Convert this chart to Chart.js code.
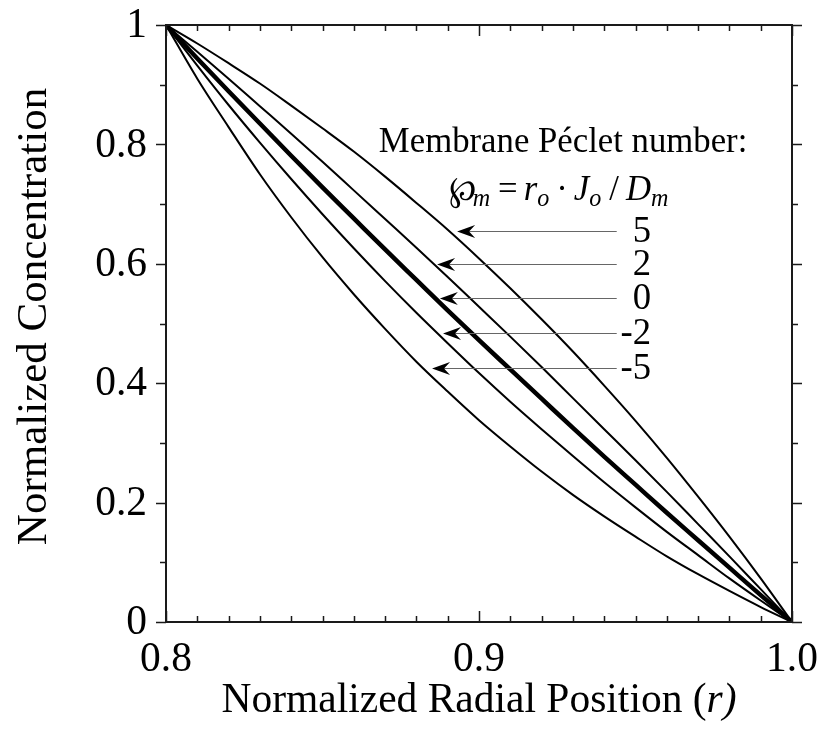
<!DOCTYPE html>
<html>
<head>
<meta charset="utf-8">
<script src="https://cdn.jsdelivr.net/npm/chart.js@4"></script>
<style>
  html, body { margin: 0; padding: 0; background: #fff; }
  #wrap { width: 821px; height: 731px; }
</style>
</head>
<body>
<div id="wrap"><canvas id="profileChart" width="821" height="731"></canvas></div>
<script>
// radial positions (x axis)
const rValues = [0.80, 0.81, 0.82, 0.83, 0.84, 0.85, 0.86, 0.87, 0.88, 0.89, 0.90,
                 0.91, 0.92, 0.93, 0.94, 0.95, 0.96, 0.97, 0.98, 0.99, 1.00];

// normalized concentration for each membrane Peclet number
const pe5  = [1, 0.969, 0.936, 0.902, 0.865, 0.827, 0.788, 0.746, 0.702, 0.657, 0.609,
              0.559, 0.507, 0.453, 0.396, 0.337, 0.275, 0.210, 0.143, 0.073, 0];
const pe2  = [1, 0.955, 0.910, 0.864, 0.818, 0.771, 0.723, 0.675, 0.627, 0.578, 0.528,
              0.478, 0.427, 0.375, 0.323, 0.271, 0.218, 0.164, 0.110, 0.055, 0];
const pe0  = [1, 0.944, 0.889, 0.835, 0.781, 0.728, 0.676, 0.624, 0.573, 0.522, 0.472,
              0.423, 0.374, 0.325, 0.277, 0.230, 0.183, 0.137, 0.091, 0.045, 0];
const peM2 = [1, 0.932, 0.866, 0.803, 0.742, 0.683, 0.626, 0.571, 0.518, 0.467, 0.417,
              0.369, 0.323, 0.278, 0.234, 0.192, 0.151, 0.112, 0.073, 0.036, 0];
const peM5 = [1, 0.910, 0.829, 0.750, 0.678, 0.611, 0.549, 0.491, 0.436, 0.386, 0.338,
              0.294, 0.252, 0.213, 0.177, 0.143, 0.110, 0.080, 0.052, 0.025, 0];

// tick labels
const xTickValues = [0.8, 0.9, 1.0];
const xTickLabels = ['0.8', '0.9', '1.0'];
const yTickValues = [0, 0.2, 0.4, 0.6, 0.8, 1];
const yTickLabels = ['0', '0.2', '0.4', '0.6', '0.8', '1'];

// legend labels and where their arrows point (data coords)
const peLabels = ['5', '2', '0', '-2', '-5'];
const arrowTipR = [0.8930, 0.8866, 0.8875, 0.8885, 0.8850];
const arrowTipC = [0.6549, 0.5997, 0.5427, 0.4841, 0.4255];

const SERIF = '"Liberation Serif", "Times New Roman", serif';
const SX = 0.965;   // the original lettering is a little narrow

function toPoints(ys) {
    return rValues.map((r, i) => ({ x: r, y: ys[i] }));
}

function lineSet(label, ys, width) {
    return {
        label: label,
        data: toPoints(ys),
        borderColor: '#000',
        borderWidth: width,
        pointRadius: 0,
        fill: false,
        cubicInterpolationMode: 'monotone'
    };
}

function narrowText(ctx, text, x, y) {
    ctx.save();
    ctx.translate(x, y);
    ctx.scale(SX, 1);
    ctx.fillText(text, 0, 0);
    ctx.restore();
}

// draws a run of text pieces (mixed fonts / subscripts) starting at x
function drawRun(ctx, pieces, x, y) {
    pieces.forEach(p => {
        ctx.font = p.font;
        x += (p.dx || 0);
        narrowText(ctx, p.text, x, y + (p.dy || 0));
        x += ctx.measureText(p.text).width * SX;
    });
}

const framePlugin = {
    id: 'frame',
    afterDatasetsDraw(chart) {
        const ctx = chart.ctx;
        const xs = chart.scales.x;
        const ys = chart.scales.y;
        const a = chart.chartArea;
        ctx.save();
        ctx.strokeStyle = '#1a1a1a';
        ctx.fillStyle = '#000';

        // x ticks (inward, bottom and top)
        ctx.lineWidth = 1.5;
        for (let i = 0; i <= 20; i++) {
            const v = 0.8 + i * 0.01;
            const px = Math.round(xs.getPixelForValue(v)) + 0.5;
            const len = (i % 10 === 0) ? 11 : 6;
            ctx.beginPath();
            ctx.moveTo(px, a.bottom); ctx.lineTo(px, a.bottom - len);
            ctx.moveTo(px, a.top); ctx.lineTo(px, a.top + len);
            ctx.stroke();
        }
        // y ticks (outward, left and right)
        for (let i = 0; i <= 10; i++) {
            const v = i * 0.1;
            const py = Math.round(ys.getPixelForValue(v)) + 0.5;
            const len = (i % 2 === 0) ? 10 : 6;
            ctx.beginPath();
            ctx.moveTo(a.left, py); ctx.lineTo(a.left - len, py);
            ctx.moveTo(a.right, py); ctx.lineTo(a.right + len, py);
            ctx.stroke();
        }
        // frame
        ctx.lineWidth = 2;
        ctx.strokeRect(a.left, a.top, a.right - a.left, a.bottom - a.top);

        // tick labels
        ctx.font = '43px ' + SERIF;
        ctx.textAlign = 'right';
        ctx.textBaseline = 'middle';
        yTickValues.forEach((v, i) => {
            narrowText(ctx, yTickLabels[i], a.left - 19, ys.getPixelForValue(v) + 1);
        });
        ctx.textAlign = 'center';
        ctx.textBaseline = 'alphabetic';
        xTickValues.forEach((v, i) => {
            narrowText(ctx, xTickLabels[i], xs.getPixelForValue(v), a.bottom + 49);
        });

        // axis titles
        ctx.save();
        ctx.translate(46, (a.top + a.bottom) / 2 - 7);
        ctx.rotate(-Math.PI / 2);
        ctx.textAlign = 'center';
        ctx.font = '43px ' + SERIF;
        ctx.fillText('Normalized Concentration', 0, 0);
        ctx.restore();

        const xTitle = [
            { text: 'Normalized Radial Position (', font: '43px ' + SERIF },
            { text: 'r', font: 'italic 43px ' + SERIF },
            { text: ')', font: 'italic 43px ' + SERIF }
        ];
        let w = 0;
        xTitle.forEach(p => { ctx.font = p.font; w += ctx.measureText(p.text).width * SX; });
        ctx.textAlign = 'left';
        drawRun(ctx, xTitle, (a.left + a.right) / 2 - w / 2, a.bottom + 90);

        // legend block
        ctx.font = '36px ' + SERIF;
        narrowText(ctx, 'Membrane Péclet number:', xs.getPixelForValue(0.8680), ys.getPixelForValue(0.7873));
        const sub = 'italic 25px ' + SERIF;
        const ital = 'italic 36px ' + SERIF;
        const reg = '36px ' + SERIF;
        drawRun(ctx, [
            { text: '\u2118', font: '34px "DejaVu Serif", serif' },
            { text: 'm', font: sub, dy: 6, dx: -3 },
            { text: '=', font: reg, dx: 8 },
            { text: 'r', font: ital, dx: 6 },
            { text: 'o', font: sub, dy: 6 },
            { text: '\u00b7', font: reg, dx: 7 },
            { text: 'J', font: ital, dx: 6 },
            { text: 'o', font: sub, dy: 6 },
            { text: '/', font: reg, dx: 8 },
            { text: 'D', font: ital, dx: 7 },
            { text: 'm', font: sub, dy: 6 }
        ], xs.getPixelForValue(0.8903), ys.getPixelForValue(0.7069));

        // arrows with their Peclet labels
        const tailX = xs.getPixelForValue(0.9440);
        const labelX = xs.getPixelForValue(0.9550);
        peLabels.forEach((lab, i) => {
            const tx = xs.getPixelForValue(arrowTipR[i]);
            const ty = Math.round(ys.getPixelForValue(arrowTipC[i])) + 0.5;
            ctx.strokeStyle = '#666';
            ctx.lineWidth = 1;
            ctx.beginPath();
            ctx.moveTo(tx + 10, ty); ctx.lineTo(tailX, ty);
            ctx.stroke();
            ctx.fillStyle = '#000';
            ctx.beginPath();
            ctx.moveTo(tx, ty);
            ctx.lineTo(tx + 18, ty - 6.5);
            ctx.lineTo(tx + 12, ty);
            ctx.lineTo(tx + 18, ty + 6.5);
            ctx.closePath();
            ctx.fill();
            ctx.font = '38px ' + SERIF;
            ctx.textAlign = 'right';
            ctx.textBaseline = 'middle';
            narrowText(ctx, lab, labelX, ty + 1);
            ctx.textBaseline = 'alphabetic';
            ctx.textAlign = 'left';
        });
        ctx.restore();
    }
};

document.addEventListener('DOMContentLoaded', function() {
    const ctx = document.getElementById('profileChart').getContext('2d');
    window.currentChart = new Chart(ctx, {
        type: 'line',
        data: {
            datasets: [
                lineSet('5', pe5, 2),
                lineSet('2', pe2, 2),
                lineSet('0', pe0, 4.5),
                lineSet('-2', peM2, 2),
                lineSet('-5', peM5, 2)
            ]
        },
        options: {
            responsive: false,
            animation: false,
            layout: { padding: { top: 25, right: 29, left: 0, bottom: 0 } },
            plugins: {
                legend: { display: false },
                tooltip: { enabled: false }
            },
            scales: {
                x: {
                    type: 'linear',
                    min: 0.8,
                    max: 1.0,
                    grid: { display: false, drawTicks: false },
                    border: { display: false },
                    ticks: { display: false },
                    afterFit: s => { s.height = 109; }
                },
                y: {
                    min: 0,
                    max: 1,
                    grid: { display: false, drawTicks: false },
                    border: { display: false },
                    ticks: { display: false },
                    afterFit: s => { s.width = 166; }
                }
            }
        },
        plugins: [framePlugin]
    });
});
</script>
</body>
</html>
